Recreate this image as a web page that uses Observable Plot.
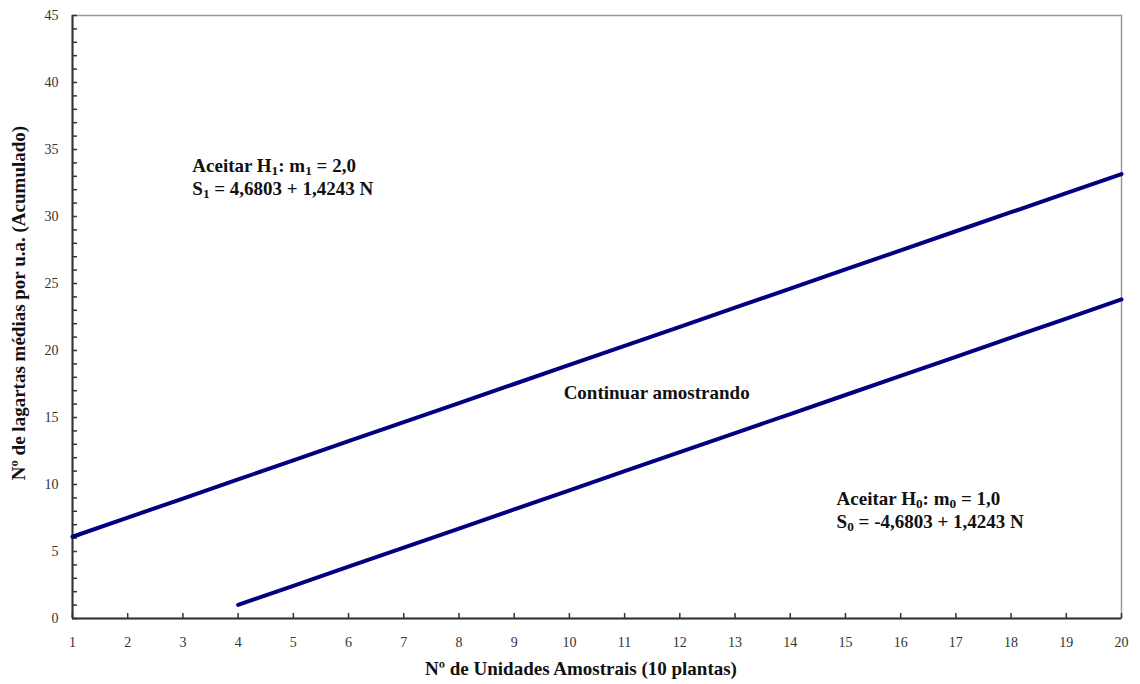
<!DOCTYPE html>
<html>
<head>
<meta charset="utf-8">
<script src="https://cdn.jsdelivr.net/npm/d3@7"></script>
<script src="https://cdn.jsdelivr.net/npm/@observablehq/plot@0.6"></script>
<style>
  html, body { margin: 0; padding: 0; background: #fff; }
  #chart svg { display: block; }
</style>
</head>
<body>
<div id="chart"></div>
<script>
// Upper boundary (S1) and lower boundary (S0)
const nUpper = [1,2,3,4,5,6,7,8,9,10,11,12,13,14,15,16,17,18,19,20];
const sUpper = [6.10,7.53,8.95,10.38,11.80,13.23,14.65,16.07,17.50,18.92,20.35,21.77,23.20,24.62,26.05,27.47,28.90,30.32,31.74,33.17];
const nLower = [4,5,6,7,8,9,10,11,12,13,14,15,16,17,18,19,20];
const sLower = [1.02,2.44,3.87,5.29,6.71,8.14,9.56,10.99,12.41,13.84,15.26,16.68,18.11,19.53,20.96,22.38,23.81];

const xTicks = d3.range(1, 21);
const yMajor = d3.range(0, 46, 5);
const yMinor = d3.range(0, 46, 1);

const notes = [
  {x: 3.17, y: 33.0, text: "Aceitar H₁: m₁ = 2,0\nS₁ = 4,6803 + 1,4243 N", anchor: "start"},
  {x: 11.58, y: 16.87, text: "Continuar amostrando", anchor: "middle"},
  {x: 14.84, y: 8.15, text: "Aceitar H₀: m₀ = 1,0\nS₀ = -4,6803 + 1,4243 N", anchor: "start"}
];

const upper = nUpper.map((n, i) => ({n, s: sUpper[i]}));
const lower = nLower.map((n, i) => ({n, s: sLower[i]}));

const serif = "'Liberation Serif', 'Times New Roman', serif";

const chart = Plot.plot({
  width: 1140,
  height: 684,
  marginLeft: 72,
  marginRight: 19,
  marginTop: 15,
  marginBottom: 66,
  style: {fontFamily: serif, fontSize: "14px", color: "#333", background: "#fff"},
  x: {domain: [1, 20]},
  y: {domain: [0, 45]},
  marks: [
    Plot.frame({stroke: "#999", strokeWidth: 1.5}),
    Plot.axisY(yMinor, {tickSize: -5, tickFormat: () => "", stroke: "#333", strokeWidth: 1.5, label: null}),
    Plot.axisY(yMajor, {tickSize: 0, tickPadding: 14, label: null, fill: "#333"}),
    Plot.axisX(xTicks, {tickSize: -5, tickPadding: 24, stroke: "#333", strokeWidth: 1.5, label: null, fill: "#333"}),
    Plot.ruleX([1], {stroke: "#333", strokeWidth: 2}),
    Plot.ruleY([0], {stroke: "#333", strokeWidth: 2}),
    Plot.line(upper, {x: "n", y: "s", stroke: "#000080", strokeWidth: 4}),
    Plot.line(lower, {x: "n", y: "s", stroke: "#000080", strokeWidth: 4, strokeLinecap: "round"}),
    Plot.text(notes.filter(d => d.anchor === "start"), {x: "x", y: "y", text: "text", textAnchor: "start", lineHeight: 1.22, fontSize: 19, fontWeight: "bold", fill: "#111"}),
    Plot.text(notes.filter(d => d.anchor === "middle"), {x: "x", y: "y", text: "text", textAnchor: "middle", fontSize: 19, fontWeight: "bold", fill: "#111"}),
    Plot.text(["Nº de Unidades Amostrais (10 plantas)"], {frameAnchor: "bottom", dy: 56, dx: -16, textAnchor: "middle", text: d => d, fontSize: 19, fontWeight: "bold", fill: "#111"}),
    Plot.text(["Nº de lagartas médias por u.a. (Acumulado)"], {frameAnchor: "left", textAnchor: "middle", dx: -54, dy: -14, rotate: -90, text: d => d, fontSize: 19, fontWeight: "bold", fill: "#111"})
  ]
});

// Render the subscript characters as real subscripts (normal digits, shifted down)
const subMap = {"₀": "0", "₁": "1"};
d3.select(chart).selectAll("text, tspan").each(function() {
  const el = this;
  const nodes = Array.from(el.childNodes).filter(n => n.nodeType === 3 && /[₀₁]/.test(n.nodeValue));
  nodes.forEach(node => {
    const parts = node.nodeValue.split(/([₀₁])/).filter(s => s !== "");
    const frag = document.createDocumentFragment();
    parts.forEach(p => {
      const t = document.createElementNS("http://www.w3.org/2000/svg", "tspan");
      if (subMap[p]) {
        t.textContent = subMap[p];
        t.setAttribute("baseline-shift", "-20%");
        t.setAttribute("font-size", "70%");
      } else {
        t.textContent = p;
      }
      frag.appendChild(t);
    });
    el.replaceChild(frag, node);
  });
});

document.getElementById("chart").appendChild(chart);
</script>
</body>
</html>
